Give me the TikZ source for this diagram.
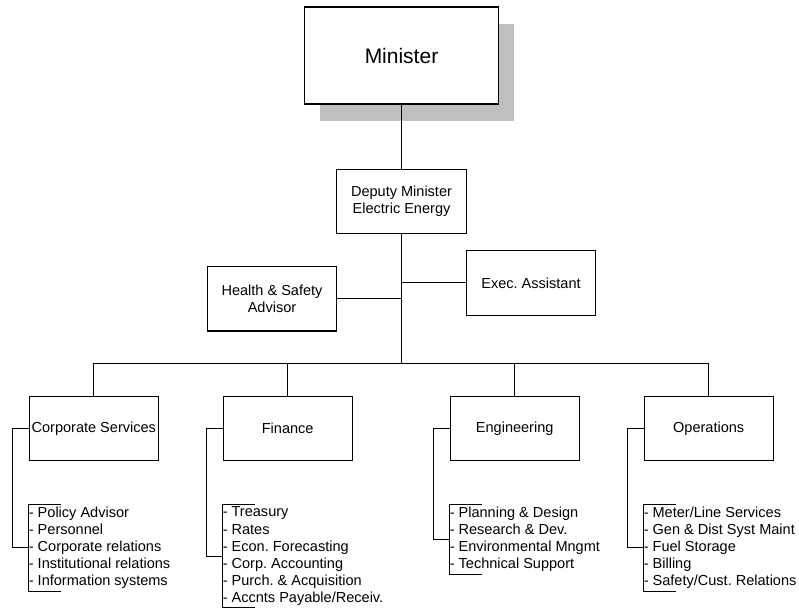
\documentclass[tikz,border=0pt]{standalone}
\usepackage{fontspec}
\setmainfont{Liberation Sans}
\usetikzlibrary{shadows,positioning}
\frenchspacing
\begin{document}
\begin{tikzpicture}[
	x=0.75pt, y=-0.75pt,
  	every node/.style = {align=center, font=\fontsize{10.9}{13}\selectfont},
	unit/.style = {shape=rectangle, draw, line width=0.8pt, fill=white,
    inner xsep=1.5pt, minimum width=97pt, minimum height=48.4pt},
	head/.style = {unit, minimum width=145.5pt, minimum height=72.75pt,
    font=\fontsize{15.75}{18}\selectfont,
    drop shadow={shadow xshift=11.5pt, shadow yshift=-13pt, fill=black!25, opacity=1}},
	duties/.style = {anchor=north west, inner xsep=0pt, inner ysep=1.5pt,
    align=left, font=\fontsize{10.9}{12.8}\selectfont},
	link/.style = {line width=0.6pt},
    ]
  \useasboundingbox (0,0) rectangle (799,607);

  \node[head] (min) at (401.5,55.5) {Minister};
  \node[unit] (dep) at (401.5,201.3) {Deputy Minister\\Electric Energy};
  \node[unit] (hsa) at (272,298.7) {Health \& Safety\\Advisor};
  \node[unit] (exec) at (531,282.8) {Exec. Assistant};

  \node[unit] (corp) at (93.8,428.3) {Corporate Services};
  \node[unit] (fin) at (287.7,428.3) {Finance};
  \node[unit] (eng) at (514.7,428.3) {Engineering};
  \node[unit] (ops) at (708.7,428.3) {Operations};

  \node[duties] (corplist) at ([yshift=-32.7pt]corp.south west)
	{- Policy Advisor\\- Personnel\\- Corporate relations\\
	 - Institutional relations\\- Information systems};
  \node[duties] (finlist) at ([yshift=-32.7pt]fin.south west)
	{- Treasury\\- Rates\\- Econ. Forecasting\\- Corp. Accounting\\
	 - Purch. \& Acquisition\\- Accnts Payable/Receiv.};
  \node[duties] (englist) at ([yshift=-32.7pt]eng.south west)
	{- Planning \& Design\\- Research \& Dev.\\- Environmental Mngmt\\
	 - Technical Support};
  \node[duties] (opslist) at ([yshift=-32.7pt]ops.south west)
	{- Meter/Line Services\\- Gen \& Dist Syst Maint\\- Fuel Storage\\
	 - Billing\\- Safety/Cust. Relations};

  \coordinate (bus) at (401.5,363.3);
  \draw[link] (min.south) -- (dep.north);
  \draw[link] (dep.south) -- (bus);
  \draw[link] (exec.west) -- (exec.west -| dep);
  \draw[link] (hsa.east) -- (hsa.east -| dep);
  \draw[link] (corp.north) |- (bus) -| (ops.north);
  \draw[link] (fin.north) -- (fin.north |- bus);
  \draw[link] (eng.north) -- (eng.north |- bus);

  \foreach \d in {corp,fin,eng,ops} {
	\draw[link] ([xshift=24pt]\d list.north west) -- (\d list.north west)
		-- (\d list.south west) -- ++(24pt,0);
	\draw[link] (\d.west) -- ++(-12pt,0) |- (\d list.west);
  }
\end{tikzpicture}
\end{document}
